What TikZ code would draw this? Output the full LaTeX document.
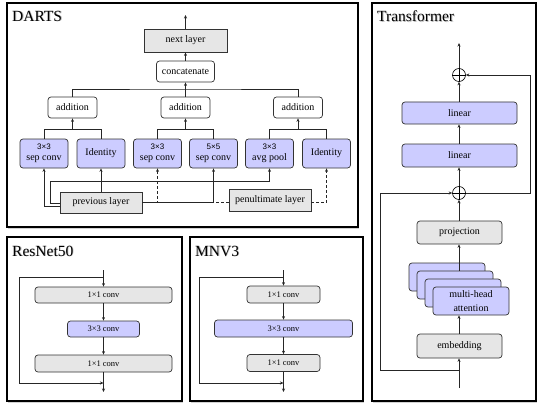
\documentclass[tikz,border=0pt]{standalone}
\usepackage{fontspec}
\setmainfont{Liberation Serif}
\newfontfamily\numfont{Liberation Sans}
\usetikzlibrary{arrows.meta,shadows,calc}

\definecolor{opblue}{HTML}{CCCCFF}
\definecolor{boxgrey}{HTML}{E6E6E6}
\definecolor{wirecol}{HTML}{262626}

% kernel sizes of the DARTS operations are set in a sans face
\newcommand{\nxn}[1]{{\numfont\fontsize{8}{11}\selectfont #1}}

\tikzset{
  panel/.style={draw=black, line width=1.2pt, fill=white,
    drop shadow={shadow xshift=1pt, shadow yshift=-1.5pt, opacity=0.35}},
  paneltitle/.style={anchor=west, inner sep=0pt, font=\fontsize{15.5}{17}\selectfont},
  box/.style={draw=black!80, line width=0.7pt, inner sep=0pt, align=center,
    font=\fontsize{10}{11}\selectfont},
  rbox/.style={box, rounded corners=3pt},
  greybox/.style={box, fill=boxgrey},
  rgreybox/.style={rbox, fill=boxgrey},
  bluebox/.style={rbox, fill=opblue},
  whitebox/.style={rbox, fill=white},
  small/.style={font=\fontsize{8.5}{10}\selectfont},
  wire/.style={draw=wirecol, line width=0.6pt},
  arr/.style={wire, -{Stealth[length=3.5pt,width=3pt]}},
  dasharr/.style={arr, dashed, dash pattern=on 3pt off 2pt},
  oplus/.style={circle, draw=black, line width=0.6pt, minimum size=13pt, inner sep=0pt, fill=white},
}

\newcommand{\titled}[2]{%
  \node[paneltitle, text=black!45, opacity=0.6] at ($#1+(0.8,0.8)$) {#2};
  \node[paneltitle] at #1 {#2};}

\begin{document}
\begin{tikzpicture}[x=1pt, y=-1pt]
\useasboundingbox (0,0) rectangle (540,409);

% ---------- panels ----------
\path[panel] (7,3) rectangle (358,227);
\path[panel] (7,237) rectangle (182,401);
\path[panel] (190,237) rectangle (363,401);
\path[panel] (372,3) rectangle (536,401);

\titled{(12,16)}{DARTS}
\titled{(12,251)}{ResNet50}
\titled{(195,251)}{MNV3}
\titled{(377,16)}{Transformer}

% ---------- DARTS cell ----------
\node[greybox, minimum width=83pt, minimum height=23pt] (next) at (185.5,40.5) {next layer};
\node[whitebox, minimum width=58pt, minimum height=21pt] (concat) at (185.5,71.5) {concatenate};
\node[whitebox, minimum width=49pt, minimum height=21pt] (add1) at (72.5,107.5) {addition};
\node[whitebox, minimum width=49pt, minimum height=21pt] (add2) at (185.5,107.5) {addition};
\node[whitebox, minimum width=49pt, minimum height=21pt] (add3) at (298,107.5) {addition};

\node[bluebox, minimum width=48pt, minimum height=29pt] (op1) at (44,153.5) {\nxn{3×3}\\sep conv};
\node[bluebox, minimum width=48pt, minimum height=29pt] (op2) at (101,153.5) {Identity};
\node[bluebox, minimum width=48pt, minimum height=29pt] (op3) at (157.5,153.5) {\nxn{3×3}\\sep conv};
\node[bluebox, minimum width=48pt, minimum height=29pt] (op4) at (213.5,153.5) {\nxn{5×5}\\sep conv};
\node[bluebox, minimum width=48pt, minimum height=29pt] (op5) at (269.5,153.5) {\nxn{3×3}\\avg pool};
\node[bluebox, minimum width=48pt, minimum height=29pt] (op6) at (326.5,153.5) {Identity};

\node[greybox, minimum width=82pt, minimum height=21pt] (prev) at (101,202.5) {previous layer};
\node[greybox, minimum width=82pt, minimum height=22pt] (pen) at (270,200.5) {penultimate layer};

\coordinate (dout) at (185.5,15);
\draw[arr] (next.north) -- (dout);
\draw[arr] (concat.north) -- (next.south);
\draw[wire] (add1.north) |- (185.5,89) -| (add3.north);
\draw[arr] (add2.north) -- (concat.south);

\foreach \a/\l/\r in {add1/op1/op2, add2/op3/op4, add3/op5/op6}{
  \draw[wire] (\l.north) |- ($(\l.north)!0.5!(\r.north)+(0,-9)$) -| (\r.north);
  \draw[arr] ($(\l.north)!0.5!(\r.north)+(0,-9)$) -- (\a.south);
}

% inputs from the previous layer
\draw[arr] (prev.west |- 0,206) -| (op1.south);
\draw[arr] (prev.west |- 0,203) -- (50,203) |- (op5.south |- 0,181) -- (op5.south);
\draw[arr] (prev.north) -- (op2.south);
\draw[arr] (prev.east) -| (op4.south);
% inputs from the penultimate layer
\draw[dasharr] (pen.west |- prev.east) -| (op3.south);
\draw[dasharr] (pen.east |- prev.east) -| (op6.south);

% ---------- ResNet50 bottleneck ----------
\node[rgreybox, small, minimum width=137pt, minimum height=16pt] (r1) at (103.5,295) {1×1 conv};
\node[bluebox, small, minimum width=72pt, minimum height=16pt] (r2) at (103.5,329) {3×3 conv};
\node[rgreybox, small, minimum width=137pt, minimum height=17pt] (r3) at (103.5,363.5) {1×1 conv};
\coordinate (rin) at (103.5,270);
\coordinate (rsplit) at (103.5,277);
\coordinate (rjoin) at (103.5,383);
\coordinate (rout) at (103.5,392);
\draw[arr] (rin) -- (r1.north);
\draw[arr] (r1.south) -- (r2.north);
\draw[arr] (r2.south) -- (r3.north);
\draw[arr] (r3.south) -- (rout);
\draw[arr] (rsplit) -- (19,277) -- (19,383) -- (rjoin);

% ---------- MNV3 inverted bottleneck ----------
\node[rgreybox, small, minimum width=73pt, minimum height=17pt] (m1) at (283.5,294.5) {1×1 conv};
\node[bluebox, small, minimum width=138pt, minimum height=17pt] (m2) at (283.5,328.5) {3×3 conv};
\node[rgreybox, small, minimum width=73pt, minimum height=17pt] (m3) at (283.5,363) {1×1 conv};
\coordinate (min) at (283.5,270);
\coordinate (msplit) at (283.5,277);
\coordinate (mjoin) at (283.5,383);
\coordinate (mout) at (283.5,392);
\draw[arr] (min) -- (m1.north);
\draw[arr] (m1.south) -- (m2.north);
\draw[arr] (m2.south) -- (m3.north);
\draw[arr] (m3.south) -- (mout);
\draw[arr] (msplit) -- (199,277) -- (199,383) -- (mjoin);

% ---------- Transformer block ----------
\node[oplus] (up) at (459,75) {};
\draw[line width=0.6pt] (up.north) -- (up.south) (up.west) -- (up.east);
\node[oplus] (lo) at (459,193) {};
\draw[line width=0.6pt] (lo.north) -- (lo.south) (lo.west) -- (lo.east);

\node[bluebox, minimum width=115pt, minimum height=22pt] (lin1) at (459.5,113) {linear};
\node[bluebox, minimum width=115pt, minimum height=23pt] (lin2) at (459.5,155.5) {linear};
\node[rgreybox, minimum width=85pt, minimum height=23pt] (proj) at (459.5,232.5) {projection};
\node[bluebox, minimum width=76pt, minimum height=28pt] (mh1) at (447,277) {};
\node[bluebox, minimum width=76pt, minimum height=28pt] (mh2) at (455,285) {};
\node[bluebox, minimum width=76pt, minimum height=28pt] (mh3) at (463,293) {};
\node[bluebox, minimum width=76pt, minimum height=28pt, font=\fontsize{10}{13.5}\selectfont] (mh4) at (471,301) {multi-head\\attention};
\node[rgreybox, minimum width=85pt, minimum height=24pt] (emb) at (459.5,346) {embedding};

\coordinate (tin) at (459,388);
\coordinate (tsplit) at (459,370);
\coordinate (tout) at (459,43);
\draw[arr] (tin) -- (tin |- emb.south);
\draw[arr] (emb.north -| tin) -- (tin |- mh4.south);
\draw[arr] (tin |- mh2.north) -- (tin |- proj.south);
\draw[arr] (tin |- proj.north) -- (lo.south);
\draw[arr] (lo.north) -- (tin |- lin2.south);
\draw[arr] (tin |- lin2.north) -- (tin |- lin1.south);
\draw[arr] (tin |- lin1.north) -- (up.south);
\draw[arr] (up.north) -- (tout);
\draw[arr] (tsplit) -- (380,370) -- (380,193) -- (lo.west);
\draw[arr] (lo.east) -- (530,193) -- (530,75) -- (up.east);
\end{tikzpicture}
\end{document}
